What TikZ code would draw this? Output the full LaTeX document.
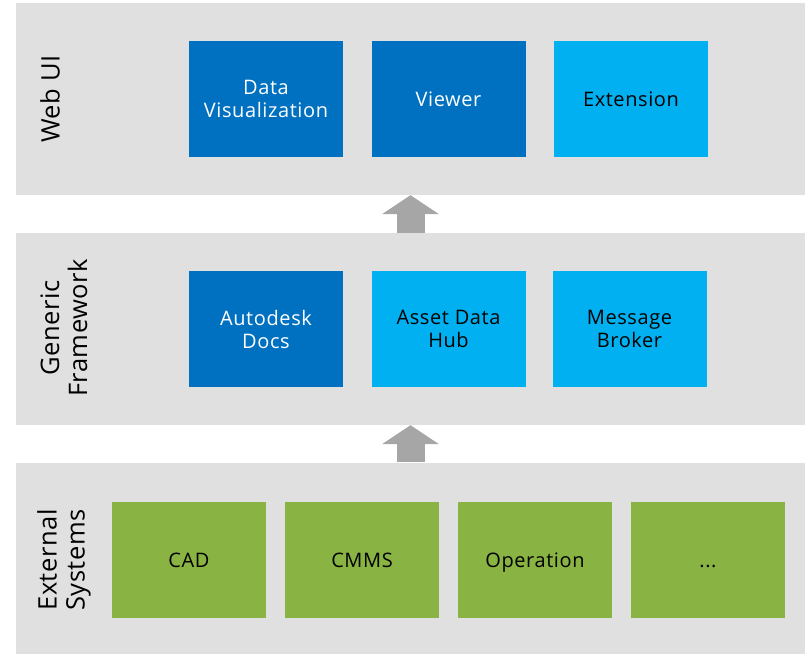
\documentclass[tikz,border=0pt]{standalone}
\usepackage{fontspec}
\setsansfont{Open Sans}
\usetikzlibrary{arrows.meta}

\definecolor{bandgray}{RGB}{224,224,224}
\definecolor{arrowgray}{RGB}{166,166,166}
\definecolor{darkblue}{RGB}{0,112,192}
\definecolor{lightblue}{RGB}{0,176,240}
\definecolor{extgreen}{RGB}{137,179,66}

\begin{document}
\begin{tikzpicture}[x=1pt,y=-1pt,
  band/.style={fill=bandgray, minimum width=789pt, minimum height=192pt, inner sep=0pt},
  layer/.style={rotate=90, align=center, font=\sffamily\fontsize{25.5}{28}\selectfont\addfontfeatures{LetterSpace=2}},
  box/.style={minimum width=154pt, minimum height=116pt, inner sep=0pt, align=center,
    font=\sffamily\fontsize{20}{23}\selectfont\addfontfeatures{LetterSpace=3}},
  oneline/.style={text height=14.3pt, text depth=0pt},
  dark/.style={box, fill=darkblue, text=white},
  light/.style={box, fill=lightblue, text=black},
  ext/.style={box, oneline, fill=extgreen, text=black},
  up/.style={arrowgray, line width=28pt, -{Triangle[width=56pt,length=19pt]}}]
\useasboundingbox (0,0) rectangle (805,653);

% layers
\node[band] (web) at (410.5,99) {};
\node[band] (fw) at (410.5,329) {};
\node[band] (sys) at (410.5,558.5) {};

\node[layer] (weblabel) at (50,99) {Web UI};
\node[layer] (fwlabel) at (64,328) {Generic\\Framework};
\node[layer] (syslabel) at (64,560) {External\\Systems};

% web ui
\node[dark] (dataviz) at (266,99) {Data\\Visualization};
\node[dark, oneline] (viewer) at (448.5,99) {Viewer};
\node[light, oneline] (extension) at (631,99) {Extension};

% framework
\node[dark] (docs) at (266,329) {Autodesk\\Docs};
\node[light] (hub) at (448.5,329) {Asset Data\\Hub};
\node[light] (broker) at (629.5,329) {Message\\Broker};

% external systems
\node[ext] (cad) at (189,560) {CAD};
\node[ext] (cmms) at (362,560) {CMMS};
\node[ext] (operation) at (535,560) {Operation};
\node[ext] (more) at (708,560) {...};

% data flow
\draw[up] (fw.north) -- (web.south);
\draw[up] (sys.north) -- (fw.south);
\end{tikzpicture}
\end{document}
